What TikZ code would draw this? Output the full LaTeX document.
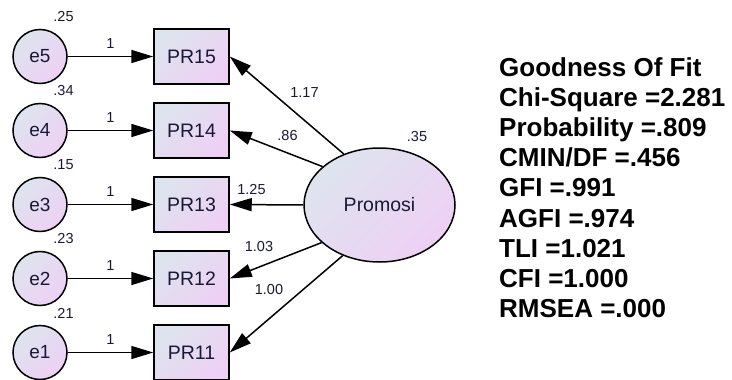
\documentclass[tikz,border=0pt]{standalone}
\usepackage{fontspec}
\setmainfont{Liberation Sans}
\usetikzlibrary{shapes.geometric,arrows.meta}
\definecolor{gA}{RGB}{222,228,238}
\definecolor{gB}{RGB}{238,208,245}
\definecolor{lbl}{RGB}{25,25,55}
\tikzset{
  grad/.style={top color=gA, bottom color=gB, shading angle=45},
  errnode/.style={circle, draw=black, line width=1.5pt, grad, minimum size=54pt, inner sep=0pt, text=lbl, font=\fontsize{19}{19}\selectfont},
  obsnode/.style={rectangle, draw=black, line width=1.5pt, grad, minimum width=75pt, minimum height=55pt, inner sep=0pt, text=lbl, font=\fontsize{19.5}{19.5}\selectfont},
  latnode/.style={ellipse, draw=black, line width=1.5pt, grad, minimum width=151pt, minimum height=114pt, inner sep=0pt, text=lbl, font=\fontsize{19.5}{19.5}\selectfont},
  conn/.style={line width=1.5pt, -{Triangle[length=22pt,width=13pt]}},
  num/.style={font=\fontsize{14.5}{14.5}\selectfont, text=lbl, inner sep=0pt},
  stat/.style={font=\fontsize{26}{26}\selectfont\bfseries, anchor=base west, inner sep=0pt},
}
\begin{document}
\begin{tikzpicture}[x=1pt,y=-1pt]
\useasboundingbox (0,0) rectangle (732,380);
% latent
\node[latnode] (P) at (379.5,205) {Promosi};
\node[num] (vP) at (417,137) {.35};
% rows
\foreach \i/\y/\v in {5/56.5/.25, 4/130.5/.34, 3/204.5/.15, 2/278.5/.23, 1/352.5/.21}{
  \node[errnode] (e\i) at (40,\y) {e\i};
  \node[obsnode] (PR1\i) at (191.5,\y) {PR1\i};
  \node[num] (ve\i) at (63.5,\y-39.5) {\v};
  \draw[conn] (e\i) -- node[num, above=7pt] (w\i) {1} (PR1\i);
}
% loadings
\draw[conn] (P.125) -- (PR15.east);
\draw[conn] (P.146.5) -- (PR14.east);
\draw[conn] (P.180) -- (PR13.east);
\draw[conn] (P.213) -- (PR12.east);
\draw[conn] (P.234) -- (PR11.east);
\node[num] (l5) at (304.5,93) {1.17};
\node[num] (l4) at (287.5,136) {.86};
\node[num] (l3) at (251.5,190) {1.25};
\node[num] (l2) at (259,246.5) {1.03};
\node[num] (l1) at (269,290) {1.00};
% fit statistics
\node[stat] (s1) at (499,76) {Goodness Of Fit};
\node[stat] (s2) at (499,106.2) {Chi-Square =2.281};
\node[stat] (s3) at (499,136.4) {Probability =.809};
\node[stat] (s4) at (499,166.6) {CMIN/DF =.456};
\node[stat] (s5) at (499,196.8) {GFI =.991};
\node[stat] (s6) at (499,227) {AGFI =.974};
\node[stat] (s7) at (499,257.2) {TLI =1.021};
\node[stat] (s8) at (499,287.4) {CFI =1.000};
\node[stat] (s9) at (499,317.6) {RMSEA =.000};
\end{tikzpicture}
\end{document}
